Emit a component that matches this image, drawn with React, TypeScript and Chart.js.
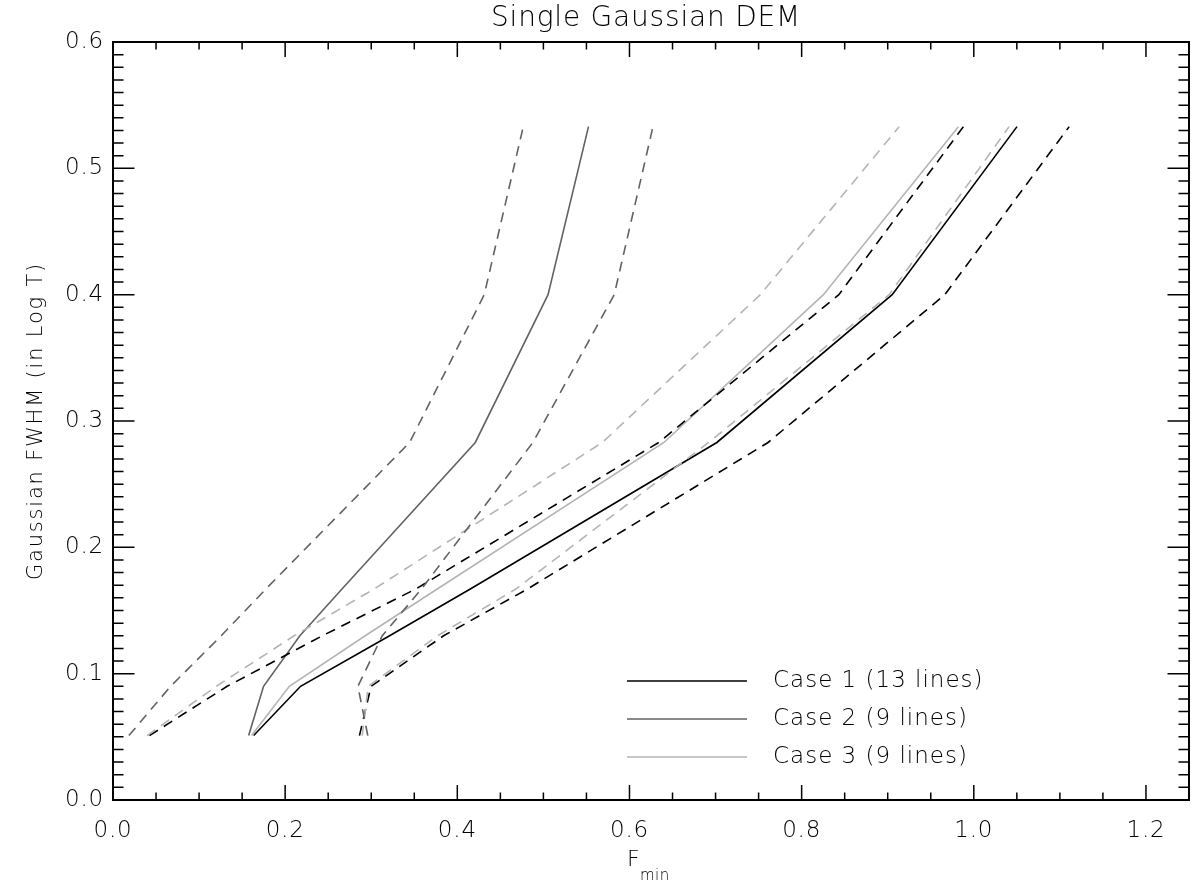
import React, { useEffect, useRef } from "react";
import { Chart, registerables } from "chart.js";

Chart.register(...registerables);

// Gaussian FWHM levels (y values shared by all curves)
const FWHM_LEVELS = [0.051, 0.09, 0.13, 0.167, 0.283, 0.4, 0.533];

// Case 1 (13 lines) - black
const CASE1_MEAN = [0.1634, 0.2179, 0.3213, 0.4151, 0.7015, 0.9052, 1.0502];
const CASE1_LOWER = [0.0423, 0.1326, 0.2432, 0.3517, 0.634, 0.8432, 0.988];
const CASE1_UPPER = [0.2863, 0.2998, 0.384, 0.4815, 0.761, 0.9663, 1.1108];

// Case 2 (9 lines) - dark grey
const CASE2_MEAN = [0.1576, 0.1749, 0.2171, 0.266, 0.4209, 0.5054, 0.5524];
const CASE2_LOWER = [0.0185, 0.0669, 0.1257, 0.1776, 0.3446, 0.4313, 0.4766];
const CASE2_UPPER = [0.296, 0.2845, 0.3128, 0.3583, 0.4878, 0.5823, 0.6273];

// Case 3 (9 lines) - light grey
const CASE3_MEAN = [0.161, 0.2049, 0.293, 0.3767, 0.64, 0.8253, 0.9821];
const CASE3_LOWER = [0.0396, 0.12, 0.2104, 0.3033, 0.5685, 0.752, 0.9133];
const CASE3_UPPER = [0.2895, 0.2965, 0.377, 0.468, 0.692, 0.9017, 1.041];

const X_TICK_LABELS = ["0.0", "0.2", "0.4", "0.6", "0.8", "1.0", "1.2"];
const Y_TICK_LABELS = ["0.0", "0.1", "0.2", "0.3", "0.4", "0.5", "0.6"];
const LEGEND_LABELS = ["Case 1 (13 lines)", "Case 2 (9 lines)", "Case 3 (9 lines)"];

const TITLE = "Single Gaussian DEM";
const Y_TITLE = "Gaussian FWHM (in Log T)";

const BLACK = "#000000";
const DARK = "#626262";
const LIGHT = "#b4b4b4";
const FONT = '"DejaVu Sans", sans-serif';
const WEIGHT = "200";

function pts(xs: number[]) {
  return xs.map((v, i) => ({ x: v, y: FWHM_LEVELS[i] }));
}

function ds(xs: number[], color: string, dashed: boolean) {
  return {
    data: pts(xs),
    borderColor: color,
    borderWidth: 1.6,
    borderDash: dashed ? [10, 7] : [],
    pointRadius: 0,
    tension: 0,
    fill: false,
  };
}

const framePlugin = {
  id: "idlFrame",
  afterDraw(chart: any) {
    const { ctx, chartArea: a, scales } = chart;
    const x = scales.x;
    const y = scales.y;
    ctx.save();
    ctx.strokeStyle = "#000";
    ctx.fillStyle = "#000";

    // ticks on all four sides, pointing inwards
    ctx.lineWidth = 1.5;
    ctx.beginPath();
    for (let i = 0; i <= 25; i++) {
      const v = i * 0.05;
      const px = x.getPixelForValue(v);
      const len = i % 4 === 0 ? 15 : 7.5;
      ctx.moveTo(px, a.bottom);
      ctx.lineTo(px, a.bottom - len);
      ctx.moveTo(px, a.top);
      ctx.lineTo(px, a.top + len);
    }
    for (let i = 0; i <= 60; i++) {
      const v = i * 0.01;
      const py = y.getPixelForValue(v);
      const len = i % 10 === 0 ? 21.5 : 10.5;
      ctx.moveTo(a.left, py);
      ctx.lineTo(a.left + len, py);
      ctx.moveTo(a.right, py);
      ctx.lineTo(a.right - len, py);
    }
    ctx.stroke();

    // box
    ctx.lineWidth = 2;
    ctx.strokeRect(a.left, a.top, a.right - a.left, a.bottom - a.top);

    // tick labels
    ctx.font = `${WEIGHT} 23px ${FONT}`;
    (ctx as any).letterSpacing = "0.8px";
    ctx.textBaseline = "middle";
    ctx.textAlign = "center";
    X_TICK_LABELS.forEach((t) => {
      const px = x.getPixelForValue(parseFloat(t));
      ctx.fillText(t, px, a.bottom + 31);
    });
    ctx.textAlign = "right";
    Y_TICK_LABELS.forEach((t) => {
      const py = y.getPixelForValue(parseFloat(t));
      ctx.fillText(t, a.left - 9, py);
    });

    // title
    ctx.textAlign = "center";
    ctx.font = `${WEIGHT} 28px ${FONT}`;
    (ctx as any).letterSpacing = "0.8px";
    ctx.fillText(TITLE, (a.left + a.right) / 2 - 5, 19);

    // x title F_min
    ctx.font = `${WEIGHT} 22px ${FONT}`;
    (ctx as any).letterSpacing = "0px";
    ctx.textAlign = "left";
    ctx.textBaseline = "alphabetic";
    ctx.fillText("F", 627, 866);
    ctx.font = `${WEIGHT} 15px ${FONT}`;
    (ctx as any).letterSpacing = "0.5px";
    ctx.fillText("min", 640, 880);

    // y title
    ctx.save();
    ctx.translate(37, (a.top + a.bottom) / 2);
    ctx.rotate(-Math.PI / 2);
    ctx.font = `${WEIGHT} 21px ${FONT}`;
    (ctx as any).letterSpacing = "1.8px";
    ctx.textAlign = "center";
    ctx.textBaseline = "middle";
    ctx.fillText(Y_TITLE, 0, 0);
    ctx.restore();

    // legend
    const colors = [BLACK, DARK, LIGHT];
    const ly = [681, 719, 757];
    ctx.font = `${WEIGHT} 23px ${FONT}`;
    (ctx as any).letterSpacing = "1px";
    ctx.textAlign = "left";
    ctx.textBaseline = "middle";
    LEGEND_LABELS.forEach((lab, i) => {
      ctx.strokeStyle = colors[i];
      ctx.lineWidth = 1.6;
      ctx.beginPath();
      ctx.moveTo(627, ly[i]);
      ctx.lineTo(747, ly[i]);
      ctx.stroke();
      ctx.fillStyle = "#000";
      ctx.fillText(lab, 773, ly[i]);
    });

    ctx.restore();
  },
};

export default function App() {
  const ref = useRef<HTMLCanvasElement | null>(null);

  useEffect(() => {
    document.body.style.margin = "0";
    const canvas = ref.current;
    if (!canvas) return;
    const chart = new Chart(canvas, {
      type: "line",
      data: {
        datasets: [
          ds(CASE2_LOWER, DARK, true),
          ds(CASE2_UPPER, DARK, true),
          ds(CASE3_LOWER, LIGHT, true),
          ds(CASE3_UPPER, LIGHT, true),
          ds(CASE1_LOWER, BLACK, true),
          ds(CASE1_UPPER, BLACK, true),
          ds(CASE3_MEAN, LIGHT, false),
          ds(CASE2_MEAN, DARK, false),
          ds(CASE1_MEAN, BLACK, false),
        ] as any,
      },
      options: {
        animation: false,
        responsive: false,
        devicePixelRatio: 1,
        layout: { padding: { left: 105, right: 7, top: 42, bottom: 80 } },
        plugins: {
          legend: { display: false },
          tooltip: { enabled: false },
          title: { display: false },
        },
        scales: {
          x: {
            type: "linear",
            min: 0,
            max: 1.25,
            grid: { display: false },
            border: { display: false },
            ticks: { display: false },
          },
          y: {
            type: "linear",
            min: 0,
            max: 0.6,
            grid: { display: false },
            border: { display: false },
            ticks: { display: false },
          },
        },
      },
      plugins: [framePlugin],
    });
    return () => chart.destroy();
  }, []);

  return (
    <div style={{ position: "absolute", left: 0, top: 0, width: 1196, height: 888, background: "#fff" }}>
      <canvas ref={ref} width={1196} height={888} style={{ display: "block" }} />
    </div>
  );
}
